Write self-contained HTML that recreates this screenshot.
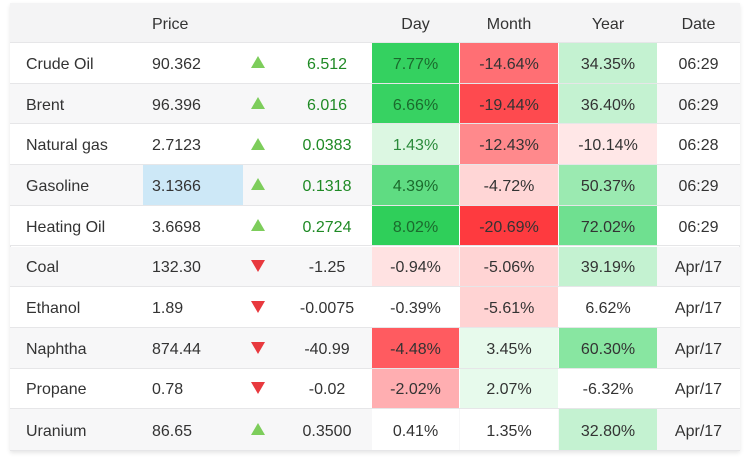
<!DOCTYPE html>
<html>
<head>
<meta charset="utf-8">
<style>
  html,body{margin:0;padding:0;background:#fff;}
  body{width:750px;height:458px;position:relative;overflow:hidden;
       font-family:"Liberation Sans",Arial,sans-serif;font-size:16px;color:#333;}
  #tbl{position:absolute;left:10px;top:3px;width:730px;height:448px;
       border:1px solid #e4e4e6;box-sizing:border-box;
       box-shadow:0 2px 4px rgba(0,0,0,0.10);background:#fff;}
  .row{position:absolute;left:10px;width:730px;box-sizing:border-box;border-bottom:1px solid #e6e6e8;}
  .g{background:#f7f7f8;}
  .w{background:#fff;}
  .hdr{background:#f4f4f5;}
  .c{position:absolute;top:0;height:100%;display:flex;align-items:center;white-space:nowrap;padding-top:4px;box-sizing:border-box;}
  .l{justify-content:flex-start;}
  .m{justify-content:center;}
  .a{padding-top:0;}
  .cell{position:absolute;top:0;bottom:0;display:flex;align-items:center;justify-content:center;padding-top:4px;box-sizing:border-box;}
  .up{width:0;height:0;border-left:7.5px solid transparent;border-right:7.5px solid transparent;border-bottom:12px solid #7dcd5b;margin-top:-1px;}
  .dn{width:0;height:0;border-left:7.5px solid transparent;border-right:7.5px solid transparent;border-top:12px solid #e8393e;}
  .gt{color:#1f8a25;}
  .dg{color:#1b6a2d;}
</style>
</head>
<body>
<div id="tbl"></div>

<!-- header -->
<div class="row hdr" style="top:3px;height:40px;">
  <div class="c l" style="left:142px;width:100px;">Price</div>
  <div class="c m" style="left:362px;width:87px;">Day</div>
  <div class="c m" style="left:450px;width:98px;">Month</div>
  <div class="c m" style="left:549px;width:98px;">Year</div>
  <div class="c m" style="left:647px;width:83px;">Date</div>
</div>

<!-- 1 Crude Oil -->
<div class="row w" style="top:43px;height:40.7px;">
  <div class="c l" style="left:16px;">Crude Oil</div>
  <div class="c l" style="left:142px;">90.362</div>
  <div class="c m a" style="left:233px;width:30px;"><div class="up"></div></div>
  <div class="c m gt" style="left:277px;width:80px;">6.512</div>
  <div class="cell dg" style="left:362px;width:87px;background:#34d160;">7.77%</div>
  <div class="cell" style="left:450px;width:98px;background:#ff6f74;">-14.64%</div>
  <div class="cell" style="left:549px;width:98px;background:#c4f2d1;">34.35%</div>
  <div class="c m" style="left:647px;width:83px;">06:29</div>
</div>

<!-- 2 Brent -->
<div class="row g" style="top:83.7px;height:40.7px;">
  <div class="c l" style="left:16px;">Brent</div>
  <div class="c l" style="left:142px;">96.396</div>
  <div class="c m a" style="left:233px;width:30px;"><div class="up"></div></div>
  <div class="c m gt" style="left:277px;width:80px;">6.016</div>
  <div class="cell dg" style="left:362px;width:87px;background:#37d262;">6.66%</div>
  <div class="cell" style="left:450px;width:98px;background:#fe4a4f;">-19.44%</div>
  <div class="cell" style="left:549px;width:98px;background:#c4f2d1;">36.40%</div>
  <div class="c m" style="left:647px;width:83px;">06:29</div>
</div>

<!-- 3 Natural gas -->
<div class="row w" style="top:124.4px;height:40.7px;">
  <div class="c l" style="left:16px;">Natural gas</div>
  <div class="c l" style="left:142px;">2.7123</div>
  <div class="c m a" style="left:233px;width:30px;"><div class="up"></div></div>
  <div class="c m gt" style="left:277px;width:80px;">0.0383</div>
  <div class="cell" style="left:362px;width:87px;background:#dcf7e2;color:#2a8a3a;">1.43%</div>
  <div class="cell" style="left:450px;width:98px;background:#ff898c;">-12.43%</div>
  <div class="cell" style="left:549px;width:98px;background:#ffe7e7;">-10.14%</div>
  <div class="c m" style="left:647px;width:83px;">06:28</div>
</div>

<!-- 4 Gasoline -->
<div class="row g" style="top:165.1px;height:40.7px;">
  <div class="c l" style="left:16px;">Gasoline</div>
  <div class="cell" style="left:133px;width:100px;background:#cde8f7;justify-content:flex-start;padding-left:9px;">3.1366</div>
  <div class="c m a" style="left:233px;width:30px;"><div class="up"></div></div>
  <div class="c m gt" style="left:277px;width:80px;">0.1318</div>
  <div class="cell dg" style="left:362px;width:87px;background:#5fdc82;">4.39%</div>
  <div class="cell" style="left:450px;width:98px;background:#ffd6d6;">-4.72%</div>
  <div class="cell" style="left:549px;width:98px;background:#9beab1;">50.37%</div>
  <div class="c m" style="left:647px;width:83px;">06:29</div>
</div>

<!-- 5 Heating Oil -->
<div class="row w" style="top:205.8px;height:40.7px;">
  <div class="c l" style="left:16px;">Heating Oil</div>
  <div class="c l" style="left:142px;">3.6698</div>
  <div class="c m a" style="left:233px;width:30px;"><div class="up"></div></div>
  <div class="c m gt" style="left:277px;width:80px;">0.2724</div>
  <div class="cell dg" style="left:362px;width:87px;background:#2fcf5a;">8.02%</div>
  <div class="cell" style="left:450px;width:98px;background:#fe3a3f;">-20.69%</div>
  <div class="cell" style="left:549px;width:98px;background:#6fe090;">72.02%</div>
  <div class="c m" style="left:647px;width:83px;">06:29</div>
</div>

<!-- 6 Coal -->
<div class="row g" style="top:246.5px;height:40.7px;">
  <div class="c l" style="left:16px;">Coal</div>
  <div class="c l" style="left:142px;">132.30</div>
  <div class="c m a" style="left:233px;width:30px;"><div class="dn"></div></div>
  <div class="c m" style="left:277px;width:80px;">-1.25</div>
  <div class="cell" style="left:362px;width:87px;background:#ffe2e2;">-0.94%</div>
  <div class="cell" style="left:450px;width:98px;background:#ffd4d4;">-5.06%</div>
  <div class="cell" style="left:549px;width:98px;background:#c4f2d1;">39.19%</div>
  <div class="c m" style="left:647px;width:83px;">Apr/17</div>
</div>

<!-- 7 Ethanol -->
<div class="row w" style="top:287.2px;height:40.7px;">
  <div class="c l" style="left:16px;">Ethanol</div>
  <div class="c l" style="left:142px;">1.89</div>
  <div class="c m a" style="left:233px;width:30px;"><div class="dn"></div></div>
  <div class="c m" style="left:277px;width:80px;">-0.0075</div>
  <div class="cell" style="left:362px;width:87px;background:#fff;">-0.39%</div>
  <div class="cell" style="left:450px;width:98px;background:#ffd3d3;">-5.61%</div>
  <div class="cell" style="left:549px;width:98px;background:#fff;">6.62%</div>
  <div class="c m" style="left:647px;width:83px;">Apr/17</div>
</div>

<!-- 8 Naphtha -->
<div class="row g" style="top:327.9px;height:40.7px;">
  <div class="c l" style="left:16px;">Naphtha</div>
  <div class="c l" style="left:142px;">874.44</div>
  <div class="c m a" style="left:233px;width:30px;"><div class="dn"></div></div>
  <div class="c m" style="left:277px;width:80px;">-40.99</div>
  <div class="cell" style="left:362px;width:87px;background:#ff5b60;">-4.48%</div>
  <div class="cell" style="left:450px;width:98px;background:#e7faec;">3.45%</div>
  <div class="cell" style="left:549px;width:98px;background:#88e6a1;">60.30%</div>
  <div class="c m" style="left:647px;width:83px;">Apr/17</div>
</div>

<!-- 9 Propane -->
<div class="row w" style="top:368.6px;height:40.7px;">
  <div class="c l" style="left:16px;">Propane</div>
  <div class="c l" style="left:142px;">0.78</div>
  <div class="c m a" style="left:233px;width:30px;"><div class="dn"></div></div>
  <div class="c m" style="left:277px;width:80px;">-0.02</div>
  <div class="cell" style="left:362px;width:87px;background:#ffaeb1;">-2.02%</div>
  <div class="cell" style="left:450px;width:98px;background:#e7faec;">2.07%</div>
  <div class="cell" style="left:549px;width:98px;background:#fff;">-6.32%</div>
  <div class="c m" style="left:647px;width:83px;">Apr/17</div>
</div>

<!-- 10 Uranium -->
<div class="row g" style="top:409.3px;height:41.7px;">
  <div class="c l" style="left:16px;">Uranium</div>
  <div class="c l" style="left:142px;">86.65</div>
  <div class="c m a" style="left:233px;width:30px;"><div class="up"></div></div>
  <div class="c m" style="left:277px;width:80px;">0.3500</div>
  <div class="cell" style="left:362px;width:87px;background:#fff;">0.41%</div>
  <div class="cell" style="left:450px;width:98px;background:#fff;">1.35%</div>
  <div class="cell" style="left:549px;width:98px;background:#c4f2d1;">32.80%</div>
  <div class="c m" style="left:647px;width:83px;">Apr/17</div>
</div>
</body>
</html>
